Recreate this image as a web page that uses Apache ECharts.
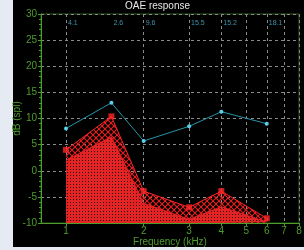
<!DOCTYPE html>
<html>
<head>
<meta charset="utf-8">
<script src="https://cdn.jsdelivr.net/npm/echarts@6/dist/echarts.min.js"></script>
<style>
html, body { margin: 0; padding: 0; background: #e6ebf3; }
#main { width: 304px; height: 250px; }
</style>
</head>
<body>
<div id="main"></div>
<script>
// frequencies (kHz) of the measured points
var freqs = [1, 1.5, 2, 3, 4, 6];
// response (blue line)
var response = [8.1, 13.0, 5.7, 8.5, 11.3, 9.0];
// noise (+ band top = red squares), band bottom = noise floor
var noiseTop = [4.0, 10.4, -3.9, -7.0, -3.9, -9.1];
var noiseFloor = [2.0, 6.5, -6.2, -9.3, -6.9, -9.8];
// SNR labels printed along the top
var snrLabels = ['4.1', '2.6', '9.6', '15.5', '15.2', '18.1'];
var xTicks = [1, 2, 3, 4, 5, 6, 7, 8];

function pair(ys) {
    return freqs.map(function (f, i) { return [f, ys[i]]; });
}

// fill patterns
function makePattern(kind) {
    var c = document.createElement('canvas');
    var ctx = c.getContext('2d');
    if (kind === 'dense') {
        c.width = 3; c.height = 3;
        ctx.fillStyle = '#e42424';
        ctx.fillRect(0, 0, 3, 3);
        ctx.fillStyle = '#300000';
        ctx.fillRect(1, 1, 1, 1);
    } else {
        c.width = 6; c.height = 6;
        ctx.strokeStyle = '#e82020';
        ctx.lineWidth = 1.1;
        ctx.beginPath();
        ctx.moveTo(-1, -1); ctx.lineTo(7, 7);
        ctx.moveTo(7, -1); ctx.lineTo(-1, 7);
        ctx.stroke();
    }
    return c;
}

var green = '#4e9c2c';
var myChart = echarts.init(document.getElementById('main'));
var option = {
    backgroundColor: '#e6ebf3',
    animation: false,
    graphic: [{
        type: 'rect', left: 13, top: 0, z: -10,
        shape: { width: 291, height: 247 },
        style: { fill: '#000' }
    }],
    title: {
        text: 'OAE response',
        left: 125,
        top: 0,
        padding: 0,
        textStyle: { color: '#e8e8e8', fontSize: 10, fontWeight: 'normal', fontFamily: 'Liberation Sans', lineHeight: 12 }
    },
    grid: {
        left: 41, right: 5, top: 14, bottom: 27,
        outerBoundsMode: 'none',
        containLabel: false,
        show: true,
        borderColor: '#2d5a1c',
        borderWidth: 1
    },
    xAxis: {
        type: 'log',
        logBase: 10,
        min: 0.8,
        max: 8,
        name: 'Frequency (kHz)',
        nameLocation: 'middle',
        nameGap: 14,
        nameMoveOverlap: false,
        nameTextStyle: { color: green, fontSize: 10, fontFamily: 'Liberation Sans' },
        axisLine: { onZero: false, lineStyle: { color: green } },
        axisTick: { show: true, length: 3, customValues: xTicks, lineStyle: { color: green } },
        axisLabel: { customValues: xTicks, color: green, fontSize: 10, margin: 3, fontFamily: 'Liberation Sans' },
        splitLine: { show: true, lineStyle: { color: '#8a8a8a', type: [3, 3] } },
        minorTick: { show: false }
    },
    yAxis: {
        type: 'value',
        min: -10,
        max: 30,
        interval: 5,
        name: 'dB (spl)',
        nameLocation: 'middle',
        nameGap: 19,
        nameMoveOverlap: false,
        nameTextStyle: { color: green, fontSize: 10, fontFamily: 'Liberation Sans' },
        axisLine: { show: true, onZero: false, lineStyle: { color: green } },
        axisTick: { show: true, length: 3, lineStyle: { color: green } },
        minorTick: { show: true, splitNumber: 5, length: 2, lineStyle: { color: green } },
        axisLabel: { color: green, fontSize: 10, margin: 4, fontFamily: 'Liberation Sans' },
        splitLine: { show: true, lineStyle: { color: '#8a8a8a', type: [3, 3] } }
    },
    series: [
        {
            name: 'band',
            type: 'line',
            data: pair(noiseTop),
            symbol: 'none',
            lineStyle: { color: '#ff2424', width: 1 },
            areaStyle: { origin: 'start', opacity: 1, color: { image: makePattern('hatch'), repeat: 'repeat' } }
        },
        {
            name: 'floor',
            type: 'line',
            data: pair(noiseFloor),
            symbol: 'none',
            lineStyle: { color: '#e02222', width: 1 },
            areaStyle: { origin: 'start', opacity: 1, color: { image: makePattern('dense'), repeat: 'repeat' } }
        },
        {
            name: 'response',
            type: 'line',
            data: pair(response),
            symbol: 'circle',
            symbolSize: 4,
            z: 4,
            lineStyle: { color: '#2a94a8', width: 1 },
            itemStyle: { color: '#55d2ea' }
        },
        {
            name: 'noise',
            type: 'scatter',
            data: pair(noiseTop),
            symbol: 'rect',
            symbolSize: 6,
            z: 5,
            itemStyle: { color: '#ff2626' }
        },
        {
            name: 'snr',
            type: 'scatter',
            data: freqs.map(function (f) { return [f, 28.2]; }),
            symbolSize: 0,
            silent: true,
            label: {
                show: true,
                position: 'right',
                distance: 2,
                color: '#4ab4d2',
                fontSize: 7,
                fontFamily: 'Liberation Sans',
                formatter: function (p) { return snrLabels[p.dataIndex]; }
            }
        }
    ]
};
myChart.setOption(option);
</script>
</body>
</html>
